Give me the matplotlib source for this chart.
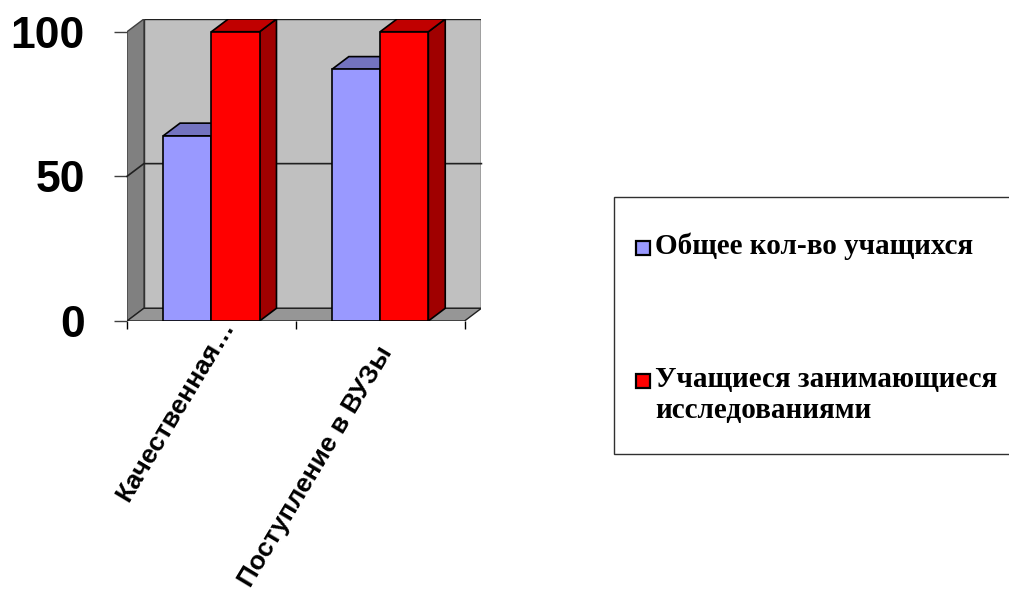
import matplotlib
matplotlib.use("Agg")
import matplotlib.pyplot as plt
from matplotlib.patches import Polygon, Rectangle
from matplotlib.transforms import offset_copy

# --- data -------------------------------------------------------------
categories = ["Качественная…", "Поступление в ВУЗы"]
series_names = ["Общее кол-во учащихся", "Учащиеся занимающиеся\nисследованиями"]
total_students = [64, 87]
research_students = [100, 100]
y_ticks = [0, 50, 100]

series_values = [total_students, research_students]
front_colors = ["#9999FF", "#FF0000"]
top_colors = ["#7373C0", "#C00000"]
side_colors = ["#5C5C99", "#A00000"]

W, H, DPI = 1009, 591, 100
fig = plt.figure(figsize=(W / DPI, H / DPI), dpi=DPI)
fig.patch.set_facecolor("white")

# plotting region (includes the depth of the 3-D box)
px_left, px_right, px_top, px_bottom = 127, 481.4, 19, 321
ax = fig.add_axes([px_left / W, (H - px_bottom) / H,
                   (px_right - px_left) / W, (px_bottom - px_top) / H])
n_cat = len(categories)
depth_x, depth_y = 0.1, 4.4
ymax = 100
ax.set_xlim(0, n_cat + depth_x)
ax.set_ylim(0, ymax + depth_y)
ax.set_facecolor("none")
for s in ax.spines.values():
    s.set_visible(False)

edge = "#202020"
# walls and floor
ax.add_patch(Polygon([(depth_x, depth_y), (n_cat + depth_x, depth_y),
                      (n_cat + depth_x, ymax + depth_y), (depth_x, ymax + depth_y)],
                     closed=True, facecolor="#C0C0C0", edgecolor=edge, lw=1.0, zorder=1))
ax.add_patch(Polygon([(0, 0), (depth_x, depth_y), (depth_x, ymax + depth_y), (0, ymax)],
                     closed=True, facecolor="#808080", edgecolor="#404040", lw=1.0, zorder=1))
ax.add_patch(Polygon([(0, 0), (n_cat, 0), (n_cat + depth_x, depth_y), (depth_x, depth_y)],
                     closed=True, facecolor="#969696", edgecolor=edge, lw=1.0, zorder=1))

# gridlines on the back wall and left wall
for t in y_ticks[1:-1]:
    ax.plot([0, depth_x, n_cat + depth_x], [t, t + depth_y, t + depth_y],
            color="#202020", lw=1.2, zorder=2, clip_on=False)

# 3-D columns
n_ser = len(series_values)
bw = 1.0 / (n_ser + 1.5)
gap = 0.75 * bw
for i in range(n_cat):
    for s in range(n_ser):
        v = series_values[s][i]
        x0 = i + gap + s * bw
        x1 = x0 + bw
        ax.add_patch(Polygon([(x1, 0), (x1 + depth_x, depth_y), (x1 + depth_x, v + depth_y), (x1, v)],
                             closed=True, facecolor=side_colors[s], edgecolor="black", lw=1.2, zorder=3))
        ax.add_patch(Polygon([(x0, v), (x1, v), (x1 + depth_x, v + depth_y), (x0 + depth_x, v + depth_y)],
                             closed=True, facecolor=top_colors[s], edgecolor="black", lw=1.2, zorder=3))
        ax.add_patch(Rectangle((x0, 0), bw, v, facecolor=front_colors[s],
                               edgecolor="black", lw=1.2, zorder=4))

# value axis
ax.set_yticks(y_ticks)
ax.set_yticklabels([str(t) for t in y_ticks], fontfamily="Liberation Sans",
                   fontweight="bold", fontsize=32)
ax.tick_params(axis="y", length=9.4, width=1.0, color="#404040", pad=21, direction="out")

# category axis
ax.set_xticks(range(n_cat + 1))
ax.set_xticklabels([""] * (n_cat + 1))
ax.tick_params(axis="x", length=5.8, width=1.0, color="black", direction="out")

label_offsets = [(7.5, 4.8), (-3.5, -21.2)]
for i, name in enumerate(categories):
    ox, oy = label_offsets[i]
    tr = offset_copy(ax.transData, fig=fig, x=ox, y=oy, units="dots")
    ax.text(i + 0.5, 0, name, transform=tr, rotation=59, rotation_mode="anchor",
            ha="right", va="top", fontsize=19, fontweight="bold",
            fontfamily="Liberation Sans", clip_on=False)

# legend box
def fx(px):
    return px / W

def fy(py):
    return (H - py) / H

fig.patches.append(Rectangle((fx(614), fy(454)), fx(1012) - fx(614), fy(197) - fy(454),
                             transform=fig.transFigure, facecolor="white",
                             edgecolor="#303030", lw=1.0))
legend_rows = [248, 381]
for s in range(n_ser):
    cy = legend_rows[s]
    fig.patches.append(Rectangle((fx(636), fy(cy + 7)), fx(650) - fx(636), fy(cy - 7) - fy(cy + 7),
                                 transform=fig.transFigure, facecolor=front_colors[s],
                                 edgecolor="black", lw=1.6))
    fig.text(fx(655), fy(cy - 15), series_names[s], ha="left", va="top",
             fontsize=21, fontfamily="Liberation Serif", fontweight="bold",
             linespacing=1.2)

fig.savefig("out.png", dpi=DPI)
